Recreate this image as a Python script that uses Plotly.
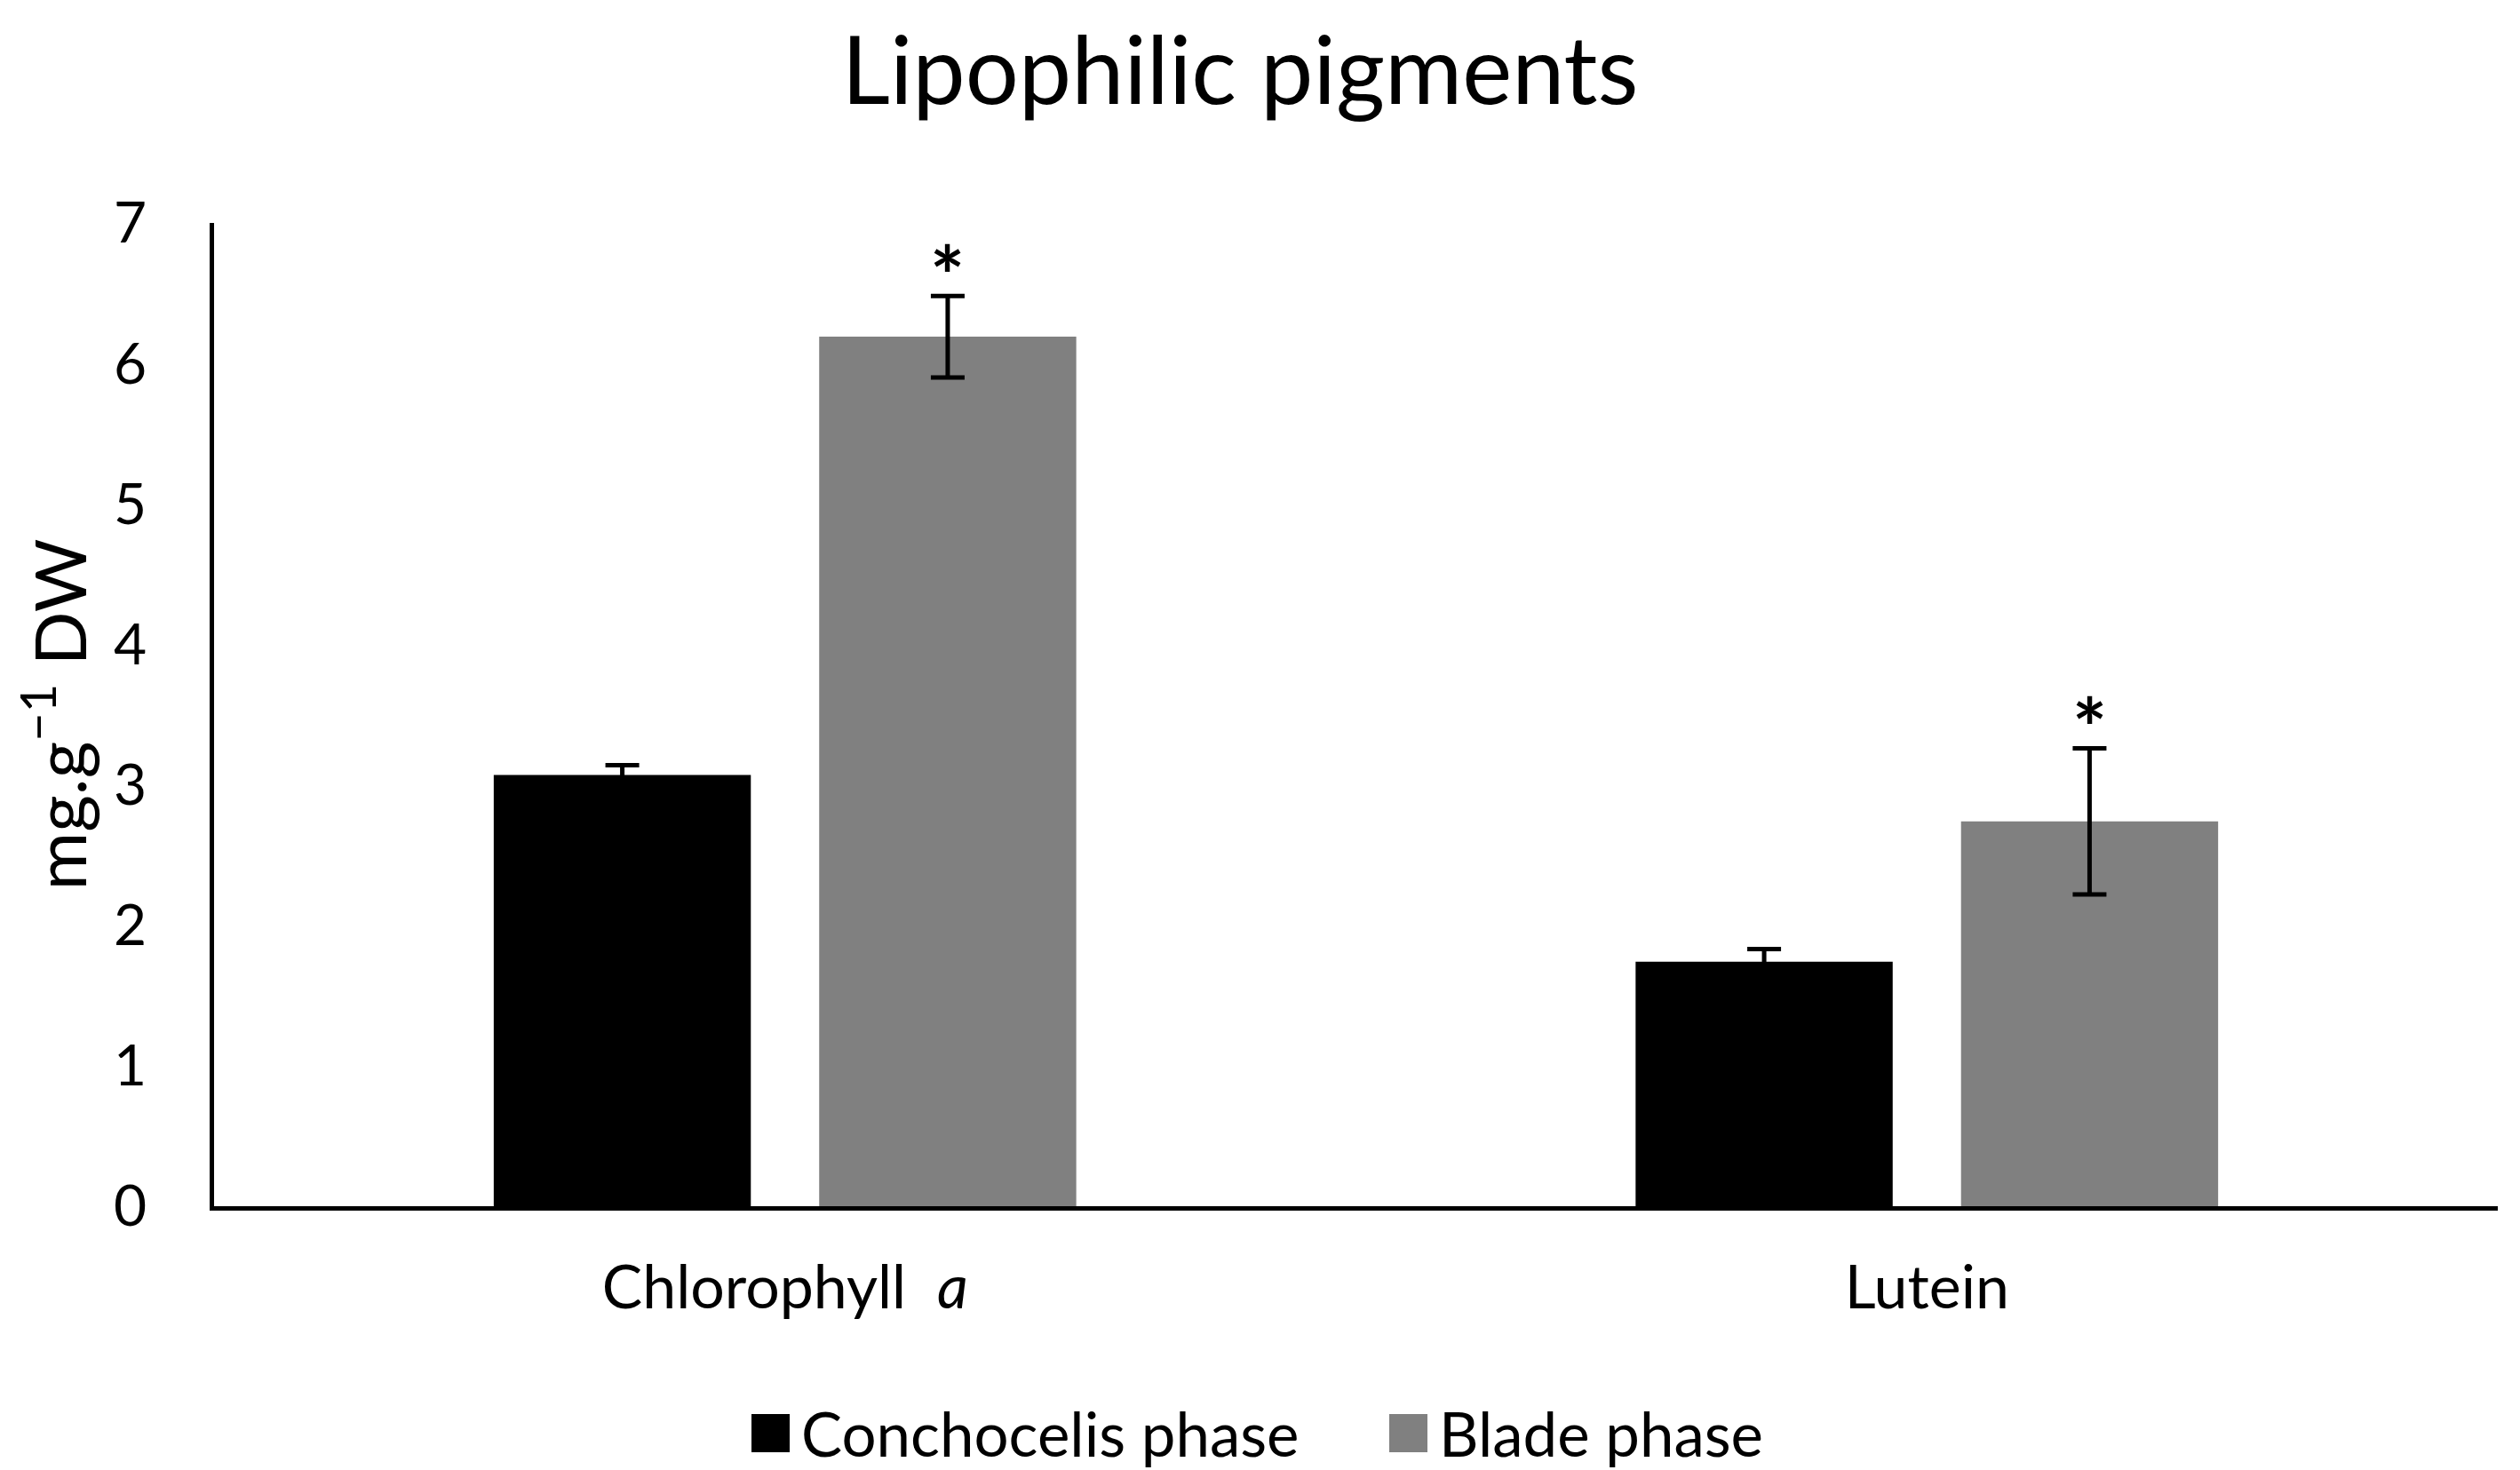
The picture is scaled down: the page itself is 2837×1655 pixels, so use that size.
import plotly.graph_objects as go

categories = ["Chlorophyll&nbsp;&nbsp;<i>a</i>", "Lutein"]
series_names = ["Conchocelis phase", "Blade phase"]
conchocelis = [3.07, 1.74]
conchocelis_err = [0.07, 0.09]
blade = [6.19, 2.74]
blade_err = [0.29, 0.52]
significant_blade = [True, True]
y_ticks = [0, 1, 2, 3, 4, 5, 6, 7]

W, H = 2837, 1655
ML, MR, MT, MB = 233, 33, 243, 305
FONT = "Lato"
BARGAP = 0.43
BARGROUPGAP = 0.21

fig = go.Figure()
fig.add_trace(go.Bar(
    x=categories, y=conchocelis, name=series_names[0],
    marker=dict(color="#000000", line=dict(width=0)),
    error_y=dict(type="data", array=conchocelis_err, color="#000000", thickness=5, width=19),
    showlegend=False,
))
fig.add_trace(go.Bar(
    x=categories, y=blade, name=series_names[1],
    marker=dict(color="#808080", line=dict(width=0)),
    error_y=dict(type="data", array=blade_err, color="#000000", thickness=5, width=19),
    showlegend=False,
))

# significance asterisks above blade error bars
slot = (1 - BARGAP) / 2
for i, (v, e, s) in enumerate(zip(blade, blade_err, significant_blade)):
    if s:
        fig.add_annotation(x=i + slot / 2, y=v + e, xref="x", yref="y",
                           text="<b>*</b>", showarrow=False, yanchor="bottom", yshift=-34,
                           font=dict(family=FONT, size=92, color="black"))

# manual legend (large square swatches)
pw, ph = W - ML - MR, H - MT - MB
def px(X):
    return (X - ML) / pw
def py(Y):
    return (H - MB - Y) / ph

legend_items = [(series_names[0], "#000000", 838), (series_names[1], "#808080", 1556)]
for name, col, x0 in legend_items:
    fig.add_shape(type="rect", xref="paper", yref="paper",
                  x0=px(x0), x1=px(x0 + 43), y0=py(1627), y1=py(1584),
                  fillcolor=col, line=dict(width=0))
    fig.add_annotation(xref="paper", yref="paper", x=px(x0 + 54), y=py(1605),
                       text=name, showarrow=False, xanchor="left", yanchor="middle",
                       font=dict(family=FONT, size=69, color="black"))

fig.update_layout(
    width=W, height=H,
    margin=dict(l=ML, r=MR, t=MT, b=MB, autoexpand=False),
    paper_bgcolor="white", plot_bgcolor="white",
    barmode="group", bargap=BARGAP, bargroupgap=BARGROUPGAP,
    title=dict(text="Lipophilic pigments", x=1388 / W, xanchor="center", xref="container",
               y=1 - 72 / H, yanchor="middle", yref="container", automargin=False,
               font=dict(family=FONT, size=106, color="black")),
    font=dict(family=FONT, color="black"),
)

fig.update_yaxes(range=[0, 7], tickvals=y_ticks, showgrid=False, zeroline=False,
                 showline=True, linecolor="black", linewidth=5, ticks="",
                 ticklabelstandoff=58, automargin=False,
                 tickfont=dict(family=FONT, size=64, color="black"),
                 title=dict(text="mg.g<sup>−1</sup> DW", standoff=28,
                            font=dict(family=FONT, size=80, color="black")))
fig.update_xaxes(showgrid=False, showline=True, linecolor="black", linewidth=5,
                 ticks="", ticklabelstandoff=28, automargin=False,
                 tickfont=dict(family=FONT, size=68, color="black"))

fig.write_html("out.html")
